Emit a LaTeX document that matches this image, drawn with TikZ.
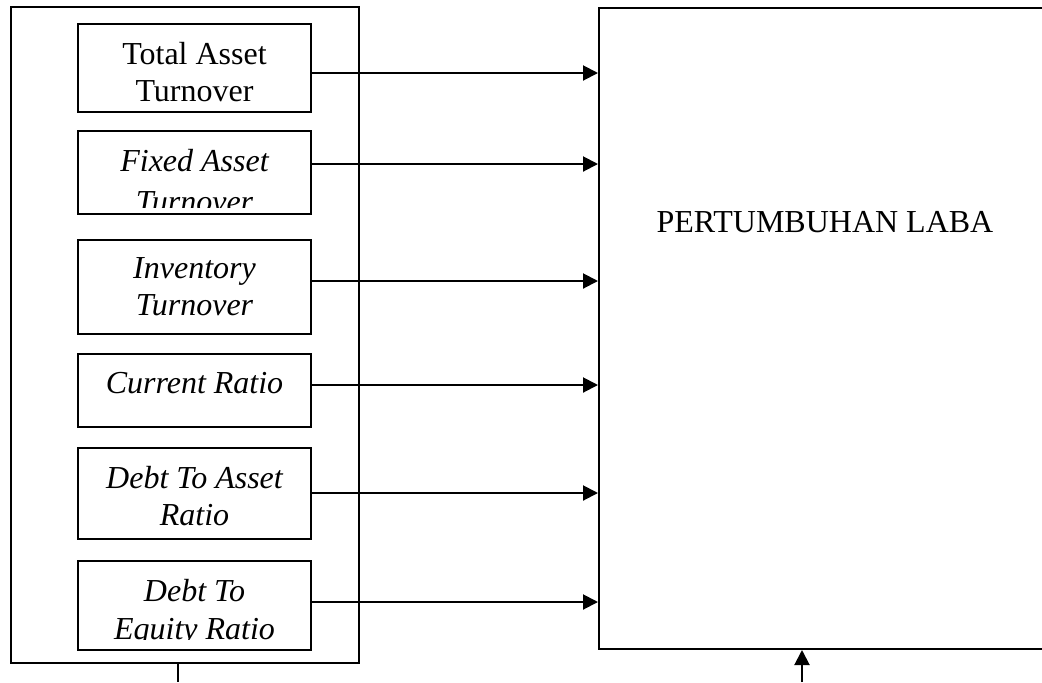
\documentclass[tikz,border=0pt]{standalone}
\usepackage{fontspec}
\setmainfont{Liberation Serif}
\usetikzlibrary{arrows.meta}
\newlength\pxu
\setlength\pxu{0.4pt}
\begin{document}
\begin{tikzpicture}
	[
		x=\pxu, y=-\pxu,
		line width=0.8pt,
		arr/.style={-{Triangle[length=6pt,width=6pt]}}
	]
	\tikzstyle{Box} = [rectangle, draw=black, anchor=north west, inner sep=0pt]
	\tikzstyle{Ratio} = [Box, minimum width=233\pxu]
	\tikzstyle{Label} = [anchor=north, align=center, inner sep=0pt]
	\useasboundingbox (0,0) rectangle (1042,682);
	\clip (0,0) rectangle (1042,682);
	% outer group and target box
	\node [Box, minimum width=348\pxu, minimum height=656\pxu] (grp) at (10,6) {};
	\node [Box, minimum width=454\pxu, minimum height=641\pxu] (laba) at (598,7) {};
	\node [anchor=base, font=\fontsize{12.8}{14.8}\selectfont] (labatext) at (825,232) {PERTUMBUHAN LABA};
	% ratio boxes, text clipped to the box
	\foreach \n/\top/\h/\cut/\sk/\f/\t in {1/23/88/1/14.8/\upshape/Total Asset\\Turnover,
		2/130/83/8/16.6/\itshape/Fixed Asset\\Turnover,
		3/239/94/1/14.8/\itshape/Inventory\\Turnover,
		4/353/73/1/14.8/\itshape/Current Ratio,
		5/447/91/1/14.8/\itshape/Debt To Asset\\Ratio,
		6/560/89/12/15.2/\itshape/Debt To\\Equity Ratio}
	{
		\node [Ratio, minimum height=\h\pxu] (b\n) at (77,\top) {};
		\begin{scope}
			\clip ([shift={(1,-\cut)}]b\n.south west) rectangle ([shift={(-1,1)}]b\n.north east);
			\node [Label, font=\fontsize{12.8}{\sk}\selectfont\f] (t\n) at ([yshift=-18\pxu]b\n.north) {\t};
		\end{scope}
	}
	% arrows into the target box
	\foreach \n/\y in {1/73, 2/164, 3/281, 4/385, 5/493, 6/602}
		\draw [arr] (b\n.east |- 0,\y) -- (laba.west |- 0,\y);
	% lines at the bottom
	\coordinate (grpout) at (178,682);
	\draw (grpout |- grp.south) -- (grpout);
	\coordinate (labain) at (802,682);
	\draw [arr] (labain) -- (labain |- laba.south);
\end{tikzpicture}
\end{document}
